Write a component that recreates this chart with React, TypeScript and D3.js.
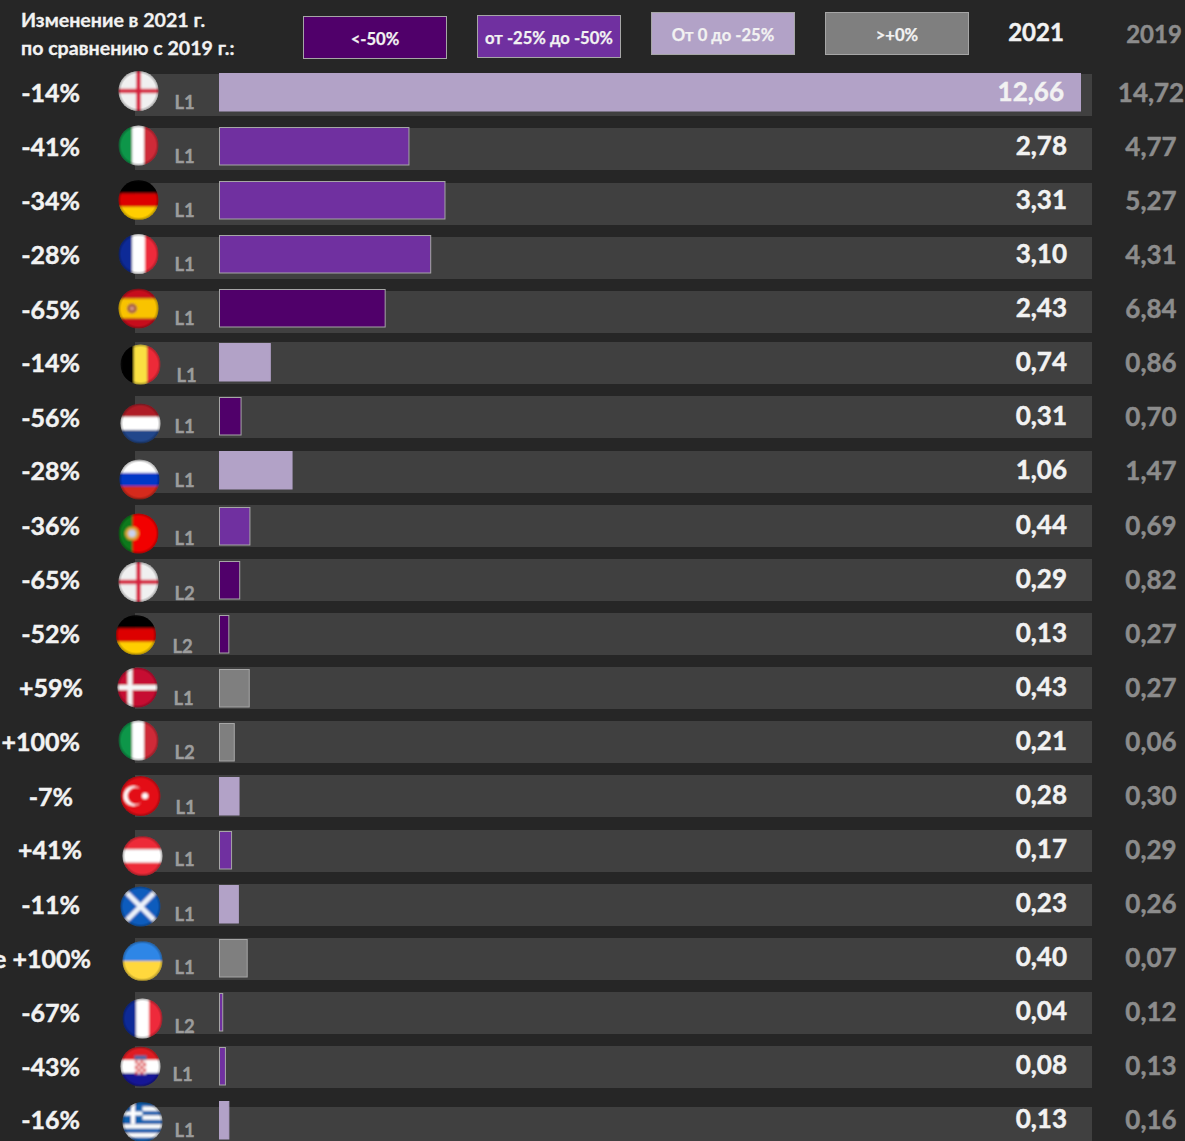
import React from "react";
import * as d3 from "d3";

// ---------- data ----------
const changeLabels = ["-14%","-41%","-34%","-28%","-65%","-14%","-56%","-28%","-36%","-65%","-52%","+59%","+100%","-7%","+41%","-11%","более +100%","-67%","-43%","-16%"];
const flagKeys = ["england","italy","germany","france","spain","belgium","netherlands","russia","portugal","england","germany","denmark","italy","turkey","austria","scotland","ukraine","france","croatia","greece"];
const leagueLabels = ["L1","L1","L1","L1","L1","L1","L1","L1","L1","L2","L2","L1","L2","L1","L1","L1","L1","L2","L1","L1"];
const values2021 = [12.66,2.78,3.31,3.10,2.43,0.74,0.31,1.06,0.44,0.29,0.13,0.43,0.21,0.28,0.17,0.23,0.40,0.04,0.08,0.13];
const barLengths = [12.66,2.78,3.31,3.10,2.43,0.74,0.31,1.06,0.44,0.29,0.13,0.43,0.21,0.28,0.17,0.27,0.40,0.04,0.08,0.13];
const values2019 = [14.72,4.77,5.27,4.31,6.84,0.86,0.70,1.47,0.69,0.82,0.27,0.27,0.06,0.30,0.29,0.26,0.07,0.12,0.13,0.16];
const bins = [2,1,1,1,0,2,0,2,1,0,0,3,3,2,1,2,3,1,1,2];
const legendLabels = ["<-50%","от -25% до -50%","От 0 до -25%",">+0%"];
const titleLines = ["Изменение в 2021 г.","по сравнению с 2019 г.:"];

// ---------- layout ----------
const binColors = ["#50006a","#7030a0","#b2a2c7","#7f7f7f"];
const legendX = [303,477,651,825];
const legendY = [16,15,12,12];
const trackNudge = [1,1,2,2,2,-1,-1,0,0,0,0,0,0,0,1,1,1,1,1,8];
const barNudge = [0,0,0,0,0,0,0,0,2,2,2,2,2,2,2,2,2,2,2,2];
const flagDx = [138.5,138.5,138.5,138.5,138.5,140.5,140.5,139.5,138.5,138.5,136,137.5,138.5,140.5,142.5,140.5,142.5,142.5,140.5,142.5];
const flagNudge = [18,18.5,19,19,19.5,21.5,26.5,28.5,28.5,23,22,20.5,19.5,21,27,23.5,24,27.5,21.5,23];
const leagueDx = [175,175,175,175,175,177,175,175,175,175,173,174,175,176,175,175,175,175,173,175];
const leagueNudge = [29,29,29,29,29,32,29,29,33,34,33,31,31,32,30,31,30,35,29,31];
const pctNudge = [20,20,20,20,21,20,21,20,21,21,21,21,21,22,21,22,22,22,22,21];
const pctRight = [80,80,80,80,80,80,80,80,80,80,80,83,80,73,82,80,91,80,80,80];
const FONT = "Lato, 'Open Sans', sans-serif";

const yBase = d3.scaleLinear().domain([0, 19]).range([73, 1099]);
const xBar = d3.scaleLinear().domain([0, 12.66]).range([219, 1079.5]);
const fmt = (v: number) => d3.format(".2f")(v).replace(".", ",");

function Stripes({ colors, dir, fr }: { colors: string[]; dir: "h" | "v"; fr?: number[] }) {
  const f = fr ?? colors.map(() => 1 / colors.length);
  let a = -20;
  return (
    <>
      {colors.map((c, i) => {
        const s = f[i] * 40;
        const el = dir === "h"
          ? <rect key={i} x={-21} y={a} width={42} height={s + 0.2} fill={c} />
          : <rect key={i} x={a} y={-21} width={s + 0.2} height={42} fill={c} />;
        a += s;
        return el;
      })}
    </>
  );
}

function FlagArt({ k }: { k: string }) {
  switch (k) {
    case "england":
      return <><rect x={-21} y={-21} width={42} height={42} fill="#f0f0f0" /><rect x={-2.2} y={-21} width={4.4} height={42} fill="#d6213f" /><rect x={-21} y={-2.2} width={42} height={4.4} fill="#d6213f" /></>;
    case "italy": return <Stripes dir="v" colors={["#10964a","#ffffff","#cf2b38"]} fr={[0.34,0.3,0.36]} />;
    case "germany": return <Stripes dir="h" colors={["#000000","#dd0000","#ffce00"]} />;
    case "france": return <Stripes dir="v" colors={["#0b2a97","#ffffff","#ee2b3a"]} fr={[0.34,0.32,0.34]} />;
    case "spain":
      return <><Stripes dir="h" colors={["#c60b1e","#f9c300","#c60b1e"]} fr={[0.25,0.5,0.25]} /><circle cx={-6.5} cy={0} r={5} fill="#a9623f" /><circle cx={-6.5} cy={0} r={2} fill="#d59a8a" /></>;
    case "belgium": return <Stripes dir="v" colors={["#000000","#fae042","#ed2939"]} />;
    case "netherlands": return <Stripes dir="h" colors={["#ae1c28","#ffffff","#21468b"]} />;
    case "russia": return <Stripes dir="h" colors={["#ffffff","#0039c6","#d52b1e"]} />;
    case "portugal":
      return <><Stripes dir="v" colors={["#0a7a1c","#f20000"]} fr={[0.35,0.65]} /><circle cx={-6.5} cy={0} r={7} fill="#d9a63a" /><circle cx={-6.5} cy={0} r={3.8} fill="#c9d2ee" /></>;
    case "denmark":
      return <><rect x={-21} y={-21} width={42} height={42} fill="#c60c30" /><rect x={-10} y={-21} width={5} height={42} fill="#f5f5f5" /><rect x={-21} y={-2.5} width={42} height={5} fill="#f5f5f5" /></>;
    case "turkey":
      return <><rect x={-21} y={-21} width={42} height={42} fill="#e30a17" /><circle cx={-7} cy={0} r={10} fill="#ffffff" /><circle cx={-4.6} cy={0} r={8.4} fill="#e30a17" /><circle cx={4.5} cy={0} r={3} fill="#ffffff" /></>;
    case "austria": return <Stripes dir="h" colors={["#ed2939","#ffffff","#ed2939"]} />;
    case "scotland":
      return <><rect x={-21} y={-21} width={42} height={42} fill="#0b5bbd" /><path d="M-15,-15L15,15M15,-15L-15,15" stroke="#eef2fa" strokeWidth={4.6} /></>;
    case "ukraine": return <Stripes dir="h" colors={["#2f86e6","#ffd83d"]} />;
    case "croatia":
      return (
        <>
          <Stripes dir="h" colors={["#e01a22","#ffffff","#171796"]} />
          {d3.range(5).map(r => d3.range(4).map(c => (
            <rect key={r + "-" + c} x={-5.6 + c * 2.8} y={-6 + r * 2.8} width={2.8} height={2.8} fill={(r + c) % 2 ? "#f5d5d5" : "#dc3a40"} />
          )))}
          <rect x={-6} y={-11} width={12} height={4} fill="#4a6aa8" />
        </>
      );
    case "greece":
      return <><Stripes dir="h" colors={["#0d5eaf","#ffffff","#0d5eaf","#ffffff","#0d5eaf","#ffffff","#0d5eaf","#ffffff","#0d5eaf"]} /><rect x={-21} y={-21} width={21} height={23} fill="#0d5eaf" /><rect x={-21} y={-10.5} width={21} height={4} fill="#ffffff" /><rect x={-11.5} y={-21} width={4} height={23} fill="#ffffff" /></>;
    default: return null;
  }
}

const thick = (c: string, w = 0.45) => ({ fill: c, stroke: c, strokeWidth: w });

export default function App() {
  return (
    <svg width={1185} height={1141} style={{ position: "absolute", left: 0, top: 0, background: "#262626", fontFamily: FONT, fontWeight: 700 }}>
      <defs>
        <clipPath id="flagClip"><circle r={20} /></clipPath>
        <filter id="flagBlur" x="-10%" y="-10%" width="120%" height="120%"><feGaussianBlur stdDeviation={1} /></filter>
        <radialGradient id="flagShade">
          <stop offset="85%" stopColor="#000" stopOpacity={0} />
          <stop offset="100%" stopColor="#000" stopOpacity={0.3} />
        </radialGradient>
      </defs>

      {titleLines.map((t, i) => (
        <text key={t} x={21} y={27 + i * 28} {...thick("#f2f2f2", 0.3)} fontSize={19.6}>{t}</text>
      ))}

      {legendLabels.map((t, i) => (
        <g key={t}>
          <rect x={legendX[i] + 0.5} y={legendY[i] + 0.5} width={143} height={42} fill={binColors[i]} stroke="#a6a6a6" strokeWidth={1} />
          <text x={legendX[i] + 72} y={legendY[i] + 29} {...thick("#f2f2f2", 0.25)} fontSize={16.6} textAnchor="middle">{t}</text>
        </g>
      ))}

      <text x={1036} y={41} {...thick("#f2f2f2")} fontSize={24} textAnchor="middle">2021</text>
      <text x={1154} y={43} {...thick("#8c8c8c")} fontSize={24} textAnchor="middle">2019</text>

      {values2021.map((v, i) => {
        const b = yBase(i);
        return <rect key={"t" + i} x={135} y={b + trackNudge[i]} width={957} height={42} fill="#404040" />;
      })}

      {barLengths.map((v, i) => {
        const b = yBase(i) + barNudge[i];
        return (
          <rect key={"b" + i} x={xBar(0) + 0.5} y={b + 0.5} width={xBar(v) - xBar(0) + 0.5} height={37.5}
            fill={binColors[bins[i]]} stroke={bins[i] === 2 ? "#b2a2c7" : "#a6a6a6"} strokeWidth={1} />
        );
      })}

      {flagKeys.map((k, i) => (
        <g key={"f" + i} transform={`translate(${flagDx[i]},${yBase(i) + flagNudge[i]})`}>
          <g clipPath="url(#flagClip)">
            <g filter="url(#flagBlur)"><FlagArt k={k} /></g>
            <circle r={20} fill="url(#flagShade)" />
          </g>
        </g>
      ))}

      {leagueLabels.map((t, i) => (
        <text key={"l" + i} x={leagueDx[i] - 0.5} y={yBase(i) + leagueNudge[i] + 7} {...thick("#9c9c9c", 0.35)} fontSize={18.5}>{t}</text>
      ))}

      {changeLabels.map((t, i) => (
        <text key={"p" + i} x={pctRight[i]} y={yBase(i) + pctNudge[i] + 9} {...thick("#f2f2f2")} fontSize={25} textAnchor="end">{t}</text>
      ))}

      {values2021.map((v, i) => (
        <text key={"v" + i} x={i === 0 ? 1064 : 1067} y={yBase(i) + 28 + barNudge[i] / 2} {...thick("#f2f2f2")} fontSize={26} textAnchor="end">{fmt(v)}</text>
      ))}

      {values2019.map((v, i) => (
        <text key={"w" + i} x={1151} y={yBase(i) + 29 + barNudge[i] / 2} {...thick("#8c8c8c")} fontSize={26} textAnchor="middle">{fmt(v)}</text>
      ))}
    </svg>
  );
}
